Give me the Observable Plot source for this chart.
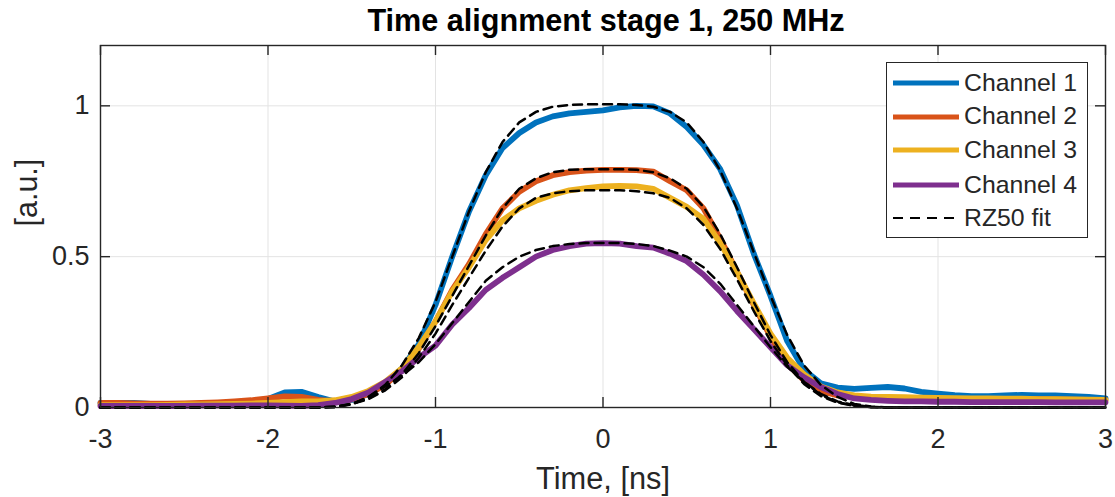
<!DOCTYPE html>
<html>
<head>
<meta charset="utf-8">
<script src="https://cdn.jsdelivr.net/npm/d3@7"></script>
<script src="https://cdn.jsdelivr.net/npm/@observablehq/plot@0.6"></script>
<style>
  html, body { margin: 0; padding: 0; background: #fff; }
  #wrap { position: relative; width: 1115px; height: 497px; font-family: "Liberation Sans", Arial, sans-serif; color: #262626; }
  #legend { position: absolute; left: 886px; top: 62px; width: 200px; height: 174px; border: 1px solid #262626; background: #fff; box-sizing: content-box; }
  .row { position: absolute; left: 0; height: 34px; display: flex; align-items: center; }
  .row svg { margin-left: 6px; margin-right: 5px; }
  .row span { font-size: 24.8px; white-space: nowrap; line-height: 1; }
</style>
</head>
<body>
<div id="wrap"></div>
<script>
const titleText = "Time alignment stage 1, 250 MHz";
const xLabel = "Time, [ns]";
const yLabel = "[a.u.]";
const xTicks = [-3, -2, -1, 0, 1, 2, 3];
const yTicks = [0, 0.5, 1];
const seriesNames = ["Channel 1", "Channel 2", "Channel 3", "Channel 4"];
const fitName = "RZ50 fit";
const colors = ["#0072BD", "#D95319", "#EDB120", "#7E2F8E"];

const time = [-3.0,-2.9,-2.8,-2.7,-2.6,-2.5,-2.4,-2.3,-2.2,-2.1,-2.0,
  -1.9,-1.8,-1.7,-1.6,-1.5,-1.4,-1.3,-1.2,-1.1,-1.0,
  -0.9,-0.8,-0.7,-0.6,-0.5,-0.4,-0.3,-0.2,-0.1,0.0,
  0.1,0.2,0.3,0.4,0.5,0.6,0.7,0.8,0.9,1.0,
  1.1,1.2,1.3,1.4,1.5,1.6,1.7,1.8,1.9,2.0,
  2.1,2.2,2.3,2.4,2.5,2.6,2.7,2.8,2.9,3.0];

const ch1 = [0.015,0.015,0.015,0.012,0.010,0.010,0.012,0.014,0.016,0.020,0.028,
  0.050,0.052,0.035,0.020,0.025,0.045,0.078,0.130,0.210,0.340,
  0.500,0.650,0.770,0.860,0.910,0.945,0.965,0.975,0.980,0.985,
  0.995,1.000,0.998,0.975,0.930,0.870,0.790,0.670,0.510,0.370,
  0.220,0.125,0.080,0.066,0.062,0.065,0.068,0.063,0.052,0.046,
  0.041,0.038,0.038,0.040,0.042,0.040,0.040,0.038,0.035,0.030];
const ch2 = [0.015,0.015,0.014,0.013,0.013,0.014,0.015,0.017,0.020,0.024,0.030,
  0.037,0.035,0.025,0.020,0.027,0.045,0.075,0.125,0.195,0.285,
  0.390,0.475,0.575,0.660,0.715,0.750,0.770,0.780,0.785,0.788,
  0.788,0.787,0.782,0.750,0.720,0.660,0.560,0.450,0.340,0.235,
  0.145,0.090,0.055,0.040,0.035,0.033,0.032,0.031,0.030,0.029,
  0.028,0.028,0.027,0.027,0.028,0.028,0.027,0.026,0.025,0.025];
const ch3 = [0.008,0.008,0.008,0.008,0.009,0.010,0.010,0.011,0.012,0.013,0.015,
  0.018,0.020,0.020,0.024,0.035,0.055,0.085,0.130,0.200,0.285,
  0.385,0.465,0.555,0.620,0.660,0.685,0.705,0.720,0.727,0.733,
  0.735,0.733,0.725,0.695,0.665,0.625,0.545,0.450,0.345,0.245,
  0.165,0.110,0.070,0.050,0.040,0.036,0.035,0.034,0.033,0.032,
  0.031,0.030,0.030,0.029,0.029,0.028,0.028,0.027,0.026,0.025];
const ch4 = [0.005,0.005,0.005,0.005,0.005,0.005,0.006,0.006,0.006,0.007,0.007,
  0.006,0.005,0.008,0.015,0.028,0.050,0.085,0.120,0.165,0.205,
  0.275,0.330,0.390,0.430,0.465,0.500,0.522,0.535,0.543,0.545,
  0.543,0.535,0.530,0.510,0.485,0.440,0.385,0.320,0.260,0.200,
  0.140,0.100,0.068,0.045,0.030,0.025,0.022,0.020,0.020,0.019,
  0.019,0.018,0.018,0.018,0.018,0.018,0.017,0.017,0.017,0.017];

const fit1 = [0,0,0,0,0,0,0,0,0,0,0,
  0,0,0,0.003,0.012,0.035,0.075,0.140,0.230,0.350,
  0.500,0.650,0.780,0.880,0.945,0.980,0.997,1.003,1.005,1.005,
  1.005,1.003,0.997,0.980,0.945,0.880,0.785,0.660,0.515,0.370,
  0.240,0.140,0.075,0.035,0.012,0.003,0,0,0,0,
  0,0,0,0,0,0,0,0,0,0];
const fit2 = [0,0,0,0,0,0,0,0,0,0,0,
  0,0,0,0.002,0.012,0.030,0.060,0.110,0.180,0.270,
  0.370,0.470,0.570,0.660,0.725,0.760,0.780,0.788,0.790,0.790,
  0.790,0.788,0.780,0.760,0.725,0.665,0.575,0.465,0.350,0.240,
  0.150,0.085,0.042,0.018,0.006,0.001,0,0,0,0,
  0,0,0,0,0,0,0,0,0,0];
const fit3 = [0,0,0,0,0,0,0,0,0,0,0,
  0,0,0,0.002,0.011,0.028,0.057,0.100,0.165,0.245,
  0.340,0.430,0.520,0.600,0.660,0.695,0.710,0.717,0.720,0.720,
  0.720,0.717,0.710,0.695,0.660,0.605,0.525,0.425,0.320,0.220,
  0.140,0.078,0.038,0.016,0.005,0.001,0,0,0,0,
  0,0,0,0,0,0,0,0,0,0];
const fit4 = [0,0,0,0,0,0,0,0,0,0,0,
  0,0,0,0.002,0.010,0.035,0.070,0.105,0.150,0.210,
  0.280,0.350,0.420,0.465,0.500,0.522,0.535,0.542,0.545,0.545,
  0.545,0.542,0.535,0.520,0.500,0.465,0.410,0.340,0.270,0.200,
  0.135,0.085,0.045,0.020,0.008,0.002,0,0,0,0,
  0,0,0,0,0,0,0,0,0,0];

const channels = [ch1, ch2, ch3, ch4];
const fits = [fit1, fit2, fit3, fit4];
const toRows = (arr) => time.map((t, i) => ({t, v: arr[i]}));

const W = 1115, H = 497, mL = 100, mR = 10, mT = 45, mB = 90;
const fw = W - mL - mR, fh = H - mT - mB;
const tickLen = 10;
const ink = "#262626";
const gridColor = "#e3e3e3";

const marks = [
  Plot.gridX(xTicks, {stroke: gridColor, strokeOpacity: 1}),
  Plot.gridY(yTicks, {stroke: gridColor, strokeOpacity: 1}),
  ...channels.map((c, i) => Plot.line(toRows(c), {x: "t", y: "v", stroke: colors[i], strokeWidth: 5.8, strokeLinejoin: "round"})),
  ...fits.map((f) => Plot.line(toRows(f), {x: "t", y: "v", stroke: "#000", strokeWidth: 2.5, strokeDasharray: "9,6"})),
  Plot.frame({stroke: ink, strokeWidth: 1.4}),
  Plot.ruleX(xTicks, {stroke: ink, strokeWidth: 1.4, insetTop: fh - tickLen}),
  Plot.ruleX(xTicks, {stroke: ink, strokeWidth: 1.4, insetBottom: fh - tickLen}),
  Plot.ruleY(yTicks, {stroke: ink, strokeWidth: 1.4, insetRight: fw - tickLen}),
  Plot.ruleY(yTicks, {stroke: ink, strokeWidth: 1.4, insetLeft: fw - tickLen}),
  Plot.axisX(xTicks, {tickSize: 0, tickPadding: 21, fontSize: 27, label: null, tickFormat: d => String(d), fill: ink}),
  Plot.axisY(yTicks, {tickSize: 0, tickPadding: 11, fontSize: 27, label: null, tickFormat: d => String(d), fill: ink}),
  Plot.text([xLabel], {frameAnchor: "bottom", lineAnchor: "bottom", dy: 81, fontSize: 30.8, fill: ink}),
  Plot.text([yLabel], {frameAnchor: "left", lineAnchor: "middle", rotate: -90, dx: -73, fontSize: 30.5, fill: ink}),
  Plot.text([titleText], {frameAnchor: "top", lineAnchor: "bottom", dy: -15, dx: 3, fontSize: 30.6, fontWeight: "bold", fill: "#000"})
];

const chart = Plot.plot({
  width: W, height: H,
  marginLeft: mL, marginRight: mR, marginTop: mT, marginBottom: mB,
  x: {domain: [-3, 3]},
  y: {domain: [0, 1.2]},
  style: {fontFamily: "'Liberation Sans', Arial, sans-serif", background: "#fff", color: ink, overflow: "visible"},
  marks
});
const wrap = document.getElementById("wrap");
wrap.appendChild(chart);

// Legend (HTML overlay)
const legend = document.createElement("div");
legend.id = "legend";
const entries = seriesNames.map((n, i) => ({name: n, color: colors[i], dash: null, w: 5}))
  .concat([{name: fitName, color: "#000", dash: "10,7", w: 2}]);
const rowCenters = [20, 53.5, 87, 122, 155];
entries.forEach((e, i) => {
  const row = document.createElement("div");
  row.className = "row";
  row.style.top = (rowCenters[i] - 17) + "px";
  const sw = d3.create("svg").attr("width", 66).attr("height", 10);
  sw.append("line").attr("x1", 0).attr("x2", 66).attr("y1", 5).attr("y2", 5)
    .attr("stroke", e.color).attr("stroke-width", e.w)
    .attr("stroke-dasharray", e.dash);
  row.appendChild(sw.node());
  const sp = document.createElement("span");
  sp.textContent = e.name;
  row.appendChild(sp);
  legend.appendChild(row);
});
wrap.appendChild(legend);
</script>
</body>
</html>
